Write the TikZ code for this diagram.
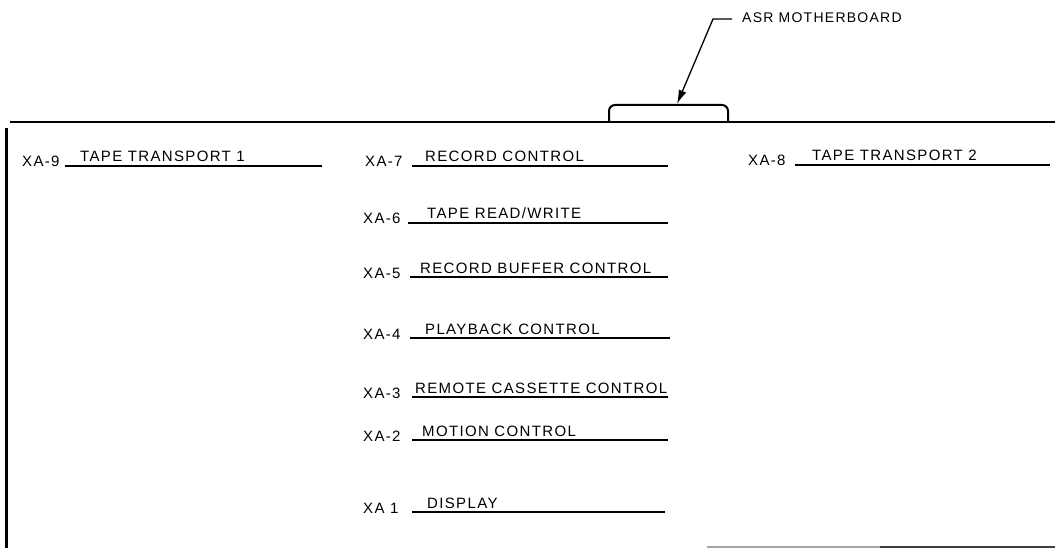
\documentclass[tikz,border=0pt]{standalone}
\usepackage{fontspec}
\setmainfont{Liberation Sans}[LetterSpace=9]
\usetikzlibrary{arrows.meta}
\tikzset{
  txt/.style={inner sep=0pt, anchor=base west, font=\fontsize{15}{17}\selectfont},
  calltxt/.style={inner sep=0pt, anchor=base west, font=\fontsize{14}{16}\selectfont},
  uline/.style={line width=1.6pt},
  frame/.style={line width=2pt},
}
\begin{document}
\begin{tikzpicture}[x=1pt,y=-1pt]
\useasboundingbox (0,0) rectangle (1055,548);
% frame
\coordinate (tl) at (10,122);
\coordinate (tr) at (1055,122);
\coordinate (lt) at (6,128);
\coordinate (lb) at (6,548);
\draw[frame] (tl) -- (tr);
\draw[line width=3pt] (lt) -- (lb);
\coordinate (bl) at (707,547);
\coordinate (bm) at (880,547);
\coordinate (br) at (1055,547);
\draw[line width=1.4pt, black!35] (bl) -- (bm);
\draw[line width=1.4pt, black!75] (bm) -- (br);
% connector bump
\coordinate (c1) at (609,122);
\coordinate (c4) at (728,122);
\draw[frame, rounded corners=6pt] (c1) -- (609,105) -- (728,105) -- (c4);
\coordinate (tip) at (677,104);
% callout
\node[calltxt] (asr) at (742,23) {ASR MOTHERBOARD};
\coordinate (lead) at (713,19);
\draw[line width=1.3pt, -{Latex[length=14pt,width=8pt]}] (asr.west |- lead) ++(-10,0) -- (lead) -- (tip);
% rows: label, title, underline
\foreach \n/\lx/\y/\xa/\xb/\tx/\lab/\ttl in {
  9/22/166/65/322/80/{XA-9}/{TAPE TRANSPORT 1},
  7/365/166/412/668/425/{XA-7}/{RECORD CONTROL},
  8/748/165/795/1050/812/{XA-8}/{TAPE TRANSPORT 2},
  6/363/223/408/668/427/{XA-6}/{TAPE READ/WRITE},
  5/363/277/410/668/420/{XA-5}/{RECORD BUFFER CONTROL},
  4/363/338/410/670/425/{XA-4}/{PLAYBACK CONTROL},
  3/363/397/412/668/415/{XA-3}/{REMOTE CASSETTE CONTROL},
  2/363/440/412/668/422/{XA-2}/{MOTION CONTROL},
  1/363/512/412/665/427/{XA 1}/{DISPLAY}}{
  \node[txt] (lab\n) at (\lx,\y+1) {\lab};
  \node[txt] (ttl\n) at (\tx,\y-4) {\ttl};
  \coordinate (ua\n) at (\xa,\y);
  \coordinate (ub\n) at (\xb,\y);
  \draw[uline] (ua\n) -- (ub\n);
}
\end{tikzpicture}
\end{document}
